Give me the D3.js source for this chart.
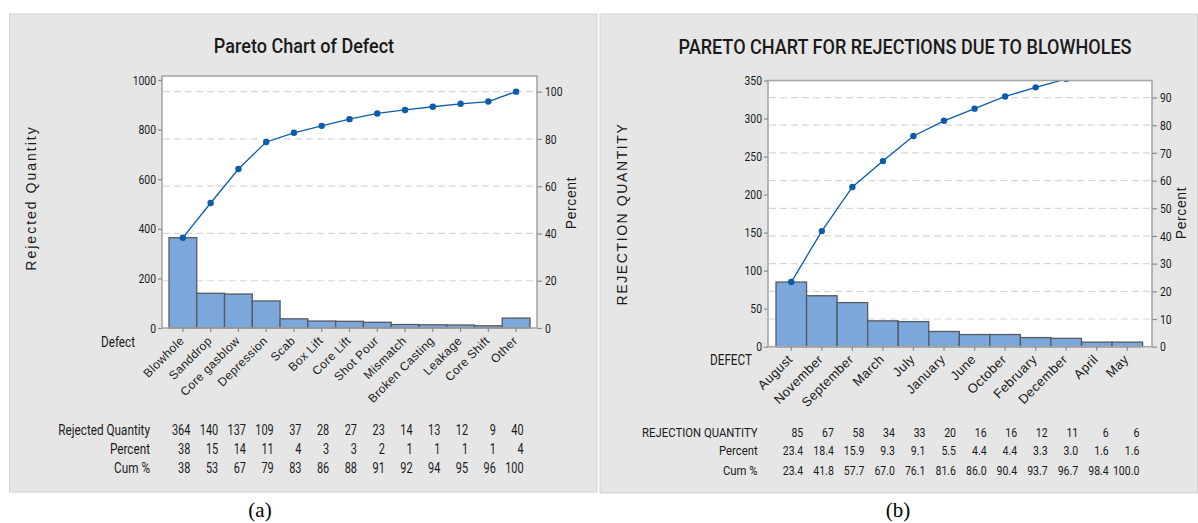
<!DOCTYPE html>
<html>
<head>
<meta charset="utf-8">
<script src="https://cdn.jsdelivr.net/npm/d3@7"></script>
<style>
  html, body { margin: 0; padding: 0; background: #ffffff; }
  svg { display: block; }
</style>
</head>
<body>
<svg id="chart" width="1198" height="523"></svg>
<script>
// ---------- Data: chart (a) ----------
const defectCategories = ["Blowhole", "Sanddrop", "Core gasblow", "Depression", "Scab", "Box Lift",
  "Core Lift", "Shot Pour", "Mismatch", "Broken Casting", "Leakage", "Core Shift", "Other"];
const defectQuantity = [364, 140, 137, 109, 37, 28, 27, 23, 14, 13, 12, 9, 40];
const defectPercent = ["38", "15", "14", "11", "4", "3", "3", "2", "1", "1", "1", "1", "4"];
const defectCumPercent = ["38", "53", "67", "79", "83", "86", "88", "91", "92", "94", "95", "96", "100"];
const defectQtyTicks = [0, 200, 400, 600, 800, 1000];
const defectPctTicks = [0, 20, 40, 60, 80, 100];

// ---------- Data: chart (b) ----------
const monthCategories = ["August", "November", "September", "March", "July", "January",
  "June", "October", "February", "December", "April", "May"];
const monthQuantity = [85, 67, 58, 34, 33, 20, 16, 16, 12, 11, 6, 6];
const monthPercent = ["23.4", "18.4", "15.9", "9.3", "9.1", "5.5", "4.4", "4.4", "3.3", "3.0", "1.6", "1.6"];
const monthCumPercent = ["23.4", "41.8", "57.7", "67.0", "76.1", "81.6", "86.0", "90.4", "93.7", "96.7", "98.4", "100.0"];
const monthQtyTicks = [0, 50, 100, 150, 200, 250, 300, 350];
const monthPctTicks = [0, 10, 20, 30, 40, 50, 60, 70, 80, 90];

const NARROW = "Roboto, 'Liberation Sans', sans-serif";
const NS = 0.8;  // horizontal condensing of tick text
const SANS = "'Liberation Sans', Arial, sans-serif";
const SERIF = "'Liberation Serif', 'Times New Roman', serif";
const BAR_FILL = "#7ba7da";
const BAR_STROKE = "#555a60";
const LINE = "#0b5cad";
const FRAME = "#a3a3a3";
const GRID = "#d6d6d6";
const TEXT = "#1a1a1a";

const svg = d3.select("#chart");

function narrowText(parent, x, y, str, size, anchor, sx, weight) {
  return parent.append("text")
    .attr("transform", `translate(${x},${y}) scale(${sx || NS},1)`)
    .attr("text-anchor", anchor || "start").attr("dy", "0.35em").attr("fill", TEXT)
    .style("font-family", NARROW).style("font-size", size + "px")
    .style("font-weight", weight || 400)
    .text(str);
}

function pareto(cfg) {
  const g = svg.append("g");
  g.append("rect")
    .attr("x", cfg.panel[0]).attr("y", cfg.panel[1])
    .attr("width", cfg.panel[2]).attr("height", cfg.panel[3])
    .attr("fill", "#e6e6e6").attr("stroke", "#d2d2d2").attr("stroke-width", 1);

  const total = d3.sum(cfg.qty);
  const cum = d3.cumsum(cfg.qty);

  const y = d3.scaleLinear().domain([0, cfg.yMax]).range([cfg.plot.y1, cfg.plot.y0]);
  const yp = d3.scaleLinear().domain([0, 100]).range([y(0), y(total)]);
  const x = d3.scaleBand().domain(cfg.cats).range([cfg.barX0, cfg.barX1]).padding(0);
  const cx = d => x(d) + x.bandwidth() / 2;

  g.append("rect")
    .attr("x", cfg.plot.x0).attr("y", cfg.plot.y0)
    .attr("width", cfg.plot.x1 - cfg.plot.x0).attr("height", cfg.plot.y1 - cfg.plot.y0)
    .attr("fill", "#ffffff");

  const clipId = "clip" + cfg.id;
  g.append("clipPath").attr("id", clipId).append("rect")
    .attr("x", cfg.plot.x0).attr("y", cfg.plot.y0)
    .attr("width", cfg.plot.x1 - cfg.plot.x0).attr("height", cfg.plot.y1 - cfg.plot.y0);

  g.append("g").selectAll("line")
    .data(cfg.pctTicks.filter(t => t > 0))
    .join("line")
    .attr("x1", cfg.plot.x0 + 1).attr("x2", cfg.plot.x1 - 1)
    .attr("y1", d => yp(d)).attr("y2", d => yp(d))
    .attr("stroke", GRID).attr("stroke-width", 1.2).attr("stroke-dasharray", "7,4");

  g.append("g").selectAll("rect")
    .data(cfg.cats)
    .join("rect")
    .attr("x", d => x(d))
    .attr("y", (d, i) => y(cfg.qty[i]))
    .attr("width", x.bandwidth())
    .attr("height", (d, i) => y(0) - y(cfg.qty[i]))
    .attr("fill", BAR_FILL).attr("stroke", BAR_STROKE).attr("stroke-width", 1.3);

  const lg = g.append("g").attr("clip-path", `url(#${clipId})`);
  const line = d3.line().x((d, i) => cx(cfg.cats[i])).y(d => y(d));
  lg.append("path").datum(cum).attr("d", line)
    .attr("fill", "none").attr("stroke", LINE).attr("stroke-width", 1.3);
  lg.selectAll("circle").data(cum).join("circle")
    .attr("cx", (d, i) => cx(cfg.cats[i])).attr("cy", d => y(d))
    .attr("r", 3.2).attr("fill", LINE);

  g.append("rect")
    .attr("x", cfg.plot.x0).attr("y", cfg.plot.y0)
    .attr("width", cfg.plot.x1 - cfg.plot.x0).attr("height", cfg.plot.y1 - cfg.plot.y0)
    .attr("fill", "none").attr("stroke", FRAME).attr("stroke-width", 1.5);

  const ax = g.append("g").attr("transform", `translate(${cfg.plot.x0},0)`)
    .call(d3.axisLeft(y).tickValues(cfg.qtyTicks).tickSize(4).tickPadding(2).tickFormat(d3.format("d")));
  const axr = g.append("g").attr("transform", `translate(${cfg.plot.x1},0)`)
    .call(d3.axisRight(yp).tickValues(cfg.pctTicks).tickSize(5).tickPadding(3).tickFormat(d3.format("d")));
  const axb = g.append("g").attr("transform", `translate(0,${cfg.plot.y1})`)
    .call(d3.axisBottom(x).tickSize(4).tickPadding(0));
  [ax, axr, axb].forEach(a => {
    a.select(".domain").remove();
    a.selectAll(".tick line").attr("stroke", "#8c8c8c").attr("stroke-width", 1.2);
    a.selectAll("text").attr("fill", TEXT);
  });
  [ax, axr].forEach(a => a.selectAll("text")
    .style("font-family", NARROW).style("font-size", "13px")
    .each(function () {
      const t = d3.select(this);
      const xx = +t.attr("x");
      t.attr("x", 0).attr("transform", `translate(${xx},0) scale(${NS},1)`);
    }));
  axb.selectAll("text")
    .style("font-family", SANS).style("font-size", cfg.catFont + "px")
    .style("letter-spacing", cfg.catSpacing + "px")
    .attr("text-anchor", "end")
    .attr("x", cfg.catDX).attr("y", cfg.catDY).attr("dy", 0)
    .attr("transform", "rotate(-45)");

  narrowText(g, cfg.titleX, cfg.titleY, cfg.title, 21, "middle", 0.86, 500);
  g.append("text")
    .attr("transform", `translate(${cfg.yLabel[0]},${cfg.yLabel[1]}) rotate(-90)`)
    .attr("text-anchor", "middle").attr("fill", TEXT)
    .style("font-family", SANS).style("font-size", "14px")
    .style("letter-spacing", cfg.yLabelSpacing + "px")
    .text(cfg.ylabel);
  g.append("text")
    .attr("transform", `translate(${cfg.pLabel[0]},${cfg.pLabel[1]}) rotate(-90)`)
    .attr("text-anchor", "middle").attr("fill", TEXT)
    .style("font-family", SANS).style("font-size", "14px")
    .style("letter-spacing", "0.6px")
    .text("Percent");
  narrowText(g, cfg.xLabel[0], cfg.xLabel[1], cfg.xlabel, 14, "start", 0.84);

  const rows = [
    { label: cfg.rowLabels[0], vals: cfg.qty.map(String) },
    { label: cfg.rowLabels[1], vals: cfg.pct },
    { label: cfg.rowLabels[2], vals: cfg.cumPct }
  ];
  const tg = g.append("g");
  rows.forEach((r, ri) => {
    const yy = cfg.rowY[ri];
    narrowText(tg, cfg.rowLabelX, yy, r.label, cfg.tableFont, "end", 0.84);
    r.vals.forEach((v, i) => narrowText(tg, cx(cfg.cats[i]) + cfg.valOffset, yy, v, cfg.tableFont, "end", 0.78));
  });

  g.append("text").attr("x", cfg.caption[0]).attr("y", cfg.caption[1])
    .attr("text-anchor", "middle").attr("fill", "#000")
    .style("font-family", SERIF).style("font-size", "21px")
    .text(cfg.captionText);
}

pareto({
  id: "a",
  panel: [9.5, 14, 587.5, 478],
  cats: defectCategories, qty: defectQuantity, pct: defectPercent, cumPct: defectCumPercent,
  qtyTicks: defectQtyTicks, pctTicks: defectPctTicks,
  yMax: 1016,
  plot: { x0: 162, x1: 537, y0: 76, y1: 328 },
  barX0: 169, barX1: 530,
  title: "Pareto Chart of Defect", titleX: 304, titleY: 46,
  ylabel: "Rejected Quantity", yLabel: [36, 198], yLabelSpacing: 2,
  pLabel: [576, 203],
  xlabel: "Defect", xLabel: [101, 342],
  catFont: 12, catSpacing: 0.4, catDX: -8, catDY: 11,
  rowLabels: ["Rejected Quantity", "Percent", "Cum %"],
  rowY: [430, 449, 468], rowLabelX: 150, valOffset: 7.5, tableFont: 14,
  caption: [260, 517], captionText: "(a)"
});

pareto({
  id: "b",
  panel: [600, 14, 597.5, 479],
  cats: monthCategories, qty: monthQuantity, pct: monthPercent, cumPct: monthCumPercent,
  qtyTicks: monthQtyTicks, pctTicks: monthPctTicks,
  yMax: 350,
  plot: { x0: 768, x1: 1152, y0: 80.5, y1: 346.7 },
  barX0: 776, barX1: 1142.6,
  title: "PARETO CHART FOR REJECTIONS DUE TO BLOWHOLES", titleX: 905, titleY: 47,
  ylabel: "REJECTION QUANTITY", yLabel: [627, 214], yLabelSpacing: 1.6,
  pLabel: [1186, 213],
  xlabel: "DEFECT", xLabel: [710, 360],
  catFont: 13, catSpacing: 0.4, catDX: -8, catDY: 11,
  rowLabels: ["REJECTION QUANTITY", "Percent", "Cum %"],
  rowY: [432.7, 450.7, 470.3], rowLabelX: 757.6, valOffset: 12, tableFont: 13.5,
  caption: [898, 517], captionText: "(b)"
});
</script>
</body>
</html>
